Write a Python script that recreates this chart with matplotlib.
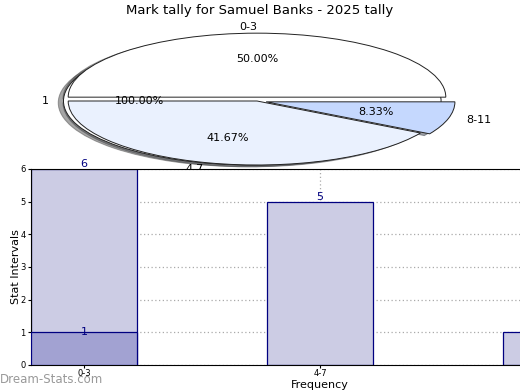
import matplotlib
matplotlib.use("Agg")
import matplotlib.pyplot as plt
import numpy as np

title = "Mark tally for Samuel Banks - 2025 tally"
categories = ["0-3", "4-7", "8-11"]
freq = [6, 5, 1]
second_cat = ["0-3"]
second_vals = [1]
pie_labels = ["0-3", "4-7", "8-11"]
pie_vals = [6, 5, 1]
pie2_labels = ["1"]
pie2_vals = [1]

fig = plt.figure(figsize=(5.2, 3.9), dpi=100)

# Pie axes (drawn first, behind bar axes)
axp = fig.add_axes([21 / 520, 209 / 390, 472 / 520, 160 / 390])
axp.set_xlim(-1.25, 1.25)
axp.set_ylim(-1.25, 1.25)
axp.axis("off")
w2, t2, a2 = axp.pie(pie2_vals, labels=pie2_labels, autopct="%.2f%%", explode=[0.025],
                     colors=["#ffffff"], startangle=0, shadow=True,
                     wedgeprops=dict(edgecolor="#222222", linewidth=0.7),
                     textprops=dict(fontsize=8), labeldistance=1.08, frame=True)
w, t, a = axp.pie(pie_vals, labels=pie_labels, autopct="%.2f%%", explode=[0.06, 0, 0.05],
                  colors=["#ffffff", "#eaf1fe", "#c5d8fe"], startangle=0, shadow=True,
                  wedgeprops=dict(edgecolor="#222222", linewidth=0.7),
                  textprops=dict(fontsize=8), frame=True)
axp.set_xlim(-1.25, 1.25)
axp.set_ylim(-1.25, 1.25)
axp.set_aspect("auto")
axp.axis("off")
fig.text(0.5, 0.972, title, ha="center", va="center", fontsize=9.5)

# Bar axes
axb = fig.add_axes([31 / 520, 25 / 390, 578 / 520, 196 / 390])
x = np.arange(len(categories))
axb.bar(x, freq, width=0.45, color="#ccccE4", edgecolor="#000080", linewidth=0.9, zorder=2)
x2 = [categories.index(c) for c in second_cat]
axb.bar(x2, second_vals, width=0.45, color="#a2a2d2", edgecolor="#000080", linewidth=0.9, zorder=3)
for xi, v in zip(x, freq):
    axb.text(xi, v, str(v), ha="center", va="bottom", fontsize=8, color="#000080", zorder=5)
for xi, v in zip(x2, second_vals):
    axb.text(xi, v, str(v), ha="center", va="center", fontsize=8, color="#000080", zorder=5)
axb.set_xlim(-0.225, 2.225)
axb.set_ylim(0, 6)
axb.set_xticks(x)
axb.set_xticklabels(categories, fontsize=6)
axb.set_yticks(range(0, 7))
axb.tick_params(axis="y", labelsize=6, length=2, pad=2)
axb.tick_params(axis="x", length=2, pad=1)
axb.grid(True, linestyle=(0, (1, 2)), color="#aaaaaa", linewidth=0.9, zorder=0)
axb.set_axisbelow(True)
axb.set_ylabel("Stat Intervals", fontsize=8)
axb.yaxis.set_label_coords(-(31 - 21) / 578, 0.5)
axb.set_xlabel("Frequency", fontsize=8)
axb.xaxis.set_label_coords((320 - 31) / 578, -0.075)

fig.text(0.0, 0.01, "Dream-Stats.com", fontsize=8.5, color="#999999", ha="left", va="bottom")

fig.savefig("out.png", dpi=100)
